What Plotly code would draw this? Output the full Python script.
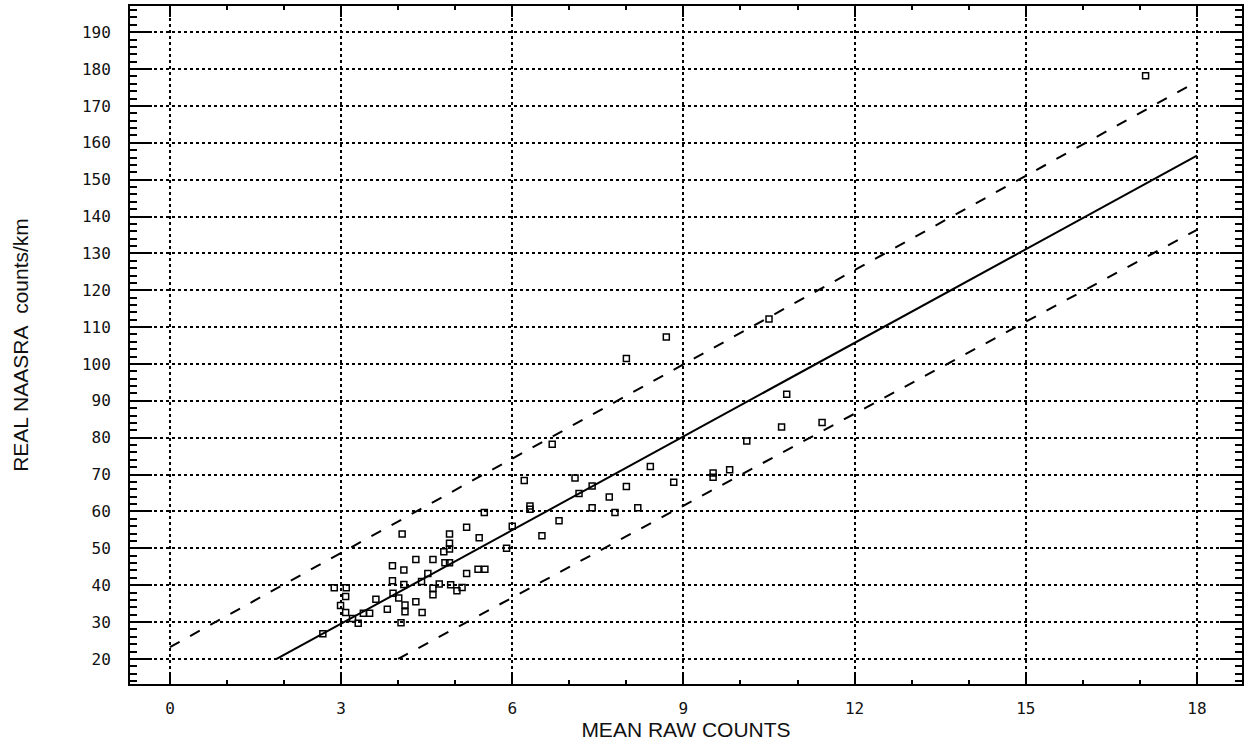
import plotly.graph_objects as go

# ---- data ----
x_vals = [2.68, 2.88, 3.09, 3.08, 2.99, 3.08, 3.20, 3.30, 3.39, 3.50,
          3.61, 3.81, 3.91, 3.90, 3.90, 4.01, 4.05, 4.07, 4.10, 4.10,
          4.12, 4.12, 4.31, 4.31, 4.41, 4.42, 4.52, 4.61, 4.61, 4.61,
          4.72, 4.82, 4.90, 4.80, 4.90, 4.90, 4.90, 4.92, 5.03, 5.12,
          5.20, 5.20, 5.42, 5.40, 5.52, 5.51, 5.90, 6.00, 6.21, 6.31,
          6.31, 6.52, 6.70, 6.82, 7.10, 7.17, 7.40, 7.40, 7.70, 7.80,
          8.00, 8.00, 8.20, 8.42, 8.70, 8.83, 9.52, 9.52, 9.81, 10.11,
          10.50, 10.72, 10.81, 11.43, 17.10]
y_vals = [26.8, 39.3, 39.3, 36.9, 34.5, 32.6, 31.0, 29.7, 32.4, 32.4,
          36.2, 33.5, 37.8, 41.2, 45.3, 36.5, 29.8, 53.9, 44.1, 40.2,
          34.6, 32.8, 47.0, 35.5, 41.0, 32.6, 43.2, 47.0, 39.2, 37.4,
          40.3, 46.1, 46.1, 49.1, 49.8, 51.4, 53.9, 40.1, 38.5, 39.4,
          43.2, 55.7, 52.9, 44.3, 44.3, 59.7, 50.0, 56.0, 68.4, 61.5,
          60.6, 53.4, 78.2, 57.5, 69.1, 64.9, 66.9, 61.0, 63.9, 59.7,
          66.8, 101.5, 61.0, 72.2, 107.3, 67.9, 70.4, 69.3, 71.3, 79.1,
          112.2, 82.9, 91.8, 84.1, 178.2]

fit_x = [1.87, 18.0]
fit_y = [20.0, 156.5]
upper_x = [0.0, 18.0]
upper_y = [23.2, 176.6]
lower_x = [4.0, 18.0]
lower_y = [20.0, 136.4]

x_ticks = [0, 3, 6, 9, 12, 15, 18]
x_tick_labels = ["0", "3", "6", "9", "12", "15", "18"]
y_ticks = [20, 30, 40, 50, 60, 70, 80, 90, 100, 110, 120, 130, 140, 150,
           160, 170, 180, 190]
y_tick_labels = ["20", "30", "40", "50", "60", "70", "80", "90", "100",
                 "110", "120", "130", "140", "150", "160", "170", "180", "190"]

x_title = "MEAN RAW COUNTS"
y_title = "REAL NAASRA\u00a0\u00a0counts/km"

fig = go.Figure()

fig.add_trace(go.Scatter(x=upper_x, y=upper_y, mode="lines",
                         line=dict(color="black", width=2, dash="11px,12px"),
                         showlegend=False, hoverinfo="skip"))
fig.add_trace(go.Scatter(x=lower_x, y=lower_y, mode="lines",
                         line=dict(color="black", width=2, dash="11px,12px"),
                         showlegend=False, hoverinfo="skip"))
fig.add_trace(go.Scatter(x=fit_x, y=fit_y, mode="lines",
                         line=dict(color="black", width=2),
                         showlegend=False, hoverinfo="skip"))
fig.add_trace(go.Scatter(x=x_vals, y=y_vals, mode="markers",
                         marker=dict(symbol="square-open", size=6, color="black",
                                     line=dict(width=1.5, color="black")),
                         showlegend=False))

tick_font = dict(family="DejaVu Sans Mono", size=16, color="#111111")
title_font = dict(family="Liberation Sans", size=21, color="#111111")

fig.update_layout(
    width=1244, height=754,
    margin=dict(l=130, r=2, t=6, b=70),
    paper_bgcolor="white", plot_bgcolor="white",
    xaxis=dict(
        range=[-0.70, 18.79],
        tickmode="array", tickvals=x_ticks, ticktext=x_tick_labels,
        ticks="inside", ticklen=11, tickwidth=2, tickcolor="black",
        minor=dict(dtick=1, tick0=0, ticks="inside", ticklen=4, tickwidth=2,
                   tickcolor="black", showgrid=False),
        showline=True, linecolor="black", linewidth=2, mirror="ticks",
        showgrid=True, gridcolor="black", gridwidth=1.5, griddash="dot",
        zeroline=False, tickfont=tick_font, ticklabelstandoff=9,
        automargin=False,
        title=dict(text=x_title, font=title_font, standoff=4),
    ),
    yaxis=dict(
        range=[13.2, 197.1],
        tickmode="array", tickvals=y_ticks, ticktext=y_tick_labels,
        ticks="inside", ticklen=22, tickwidth=2, tickcolor="black",
        minor=dict(dtick=2, tick0=0, ticks="inside", ticklen=7, tickwidth=1.5,
                   tickcolor="black", showgrid=False),
        showline=True, linecolor="black", linewidth=2, mirror="ticks",
        showgrid=True, gridcolor="black", gridwidth=1.5, griddash="dot",
        zeroline=False, tickfont=tick_font, ticklabelstandoff=14,
        automargin=False,
        title=dict(text=y_title, font=title_font, standoff=48),
    ),
)

fig.write_html(
    "out.html",
    config={"displayModeBar": False},
    post_script="document.body.style.margin='0';document.body.style.padding='0';"
                "document.body.style.overflow='hidden';",
)
